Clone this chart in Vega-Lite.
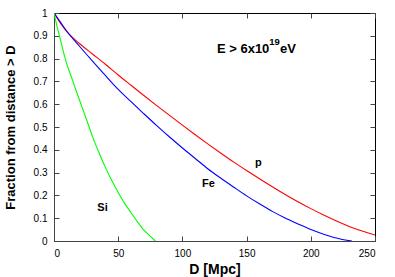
{
  "$schema": "https://vega.github.io/schema/vega-lite/v6.json",
  "width": 321,
  "height": 228,
  "autosize": "none",
  "padding": {"left": 54, "top": 13, "right": 20, "bottom": 36},
  "background": "white",
  "config": {
    "view": {"stroke": "black", "strokeWidth": 1},
    "font": "Liberation Sans",
    "axis": {"grid": false, "labelFont": "Liberation Sans", "titleFont": "Liberation Sans", "labelColor": "black", "titleColor": "black", "domainColor": "#444", "tickColor": "#444", "labelFontSize": 10, "titleFontWeight": "bold"}
  },
  "datasets": {
    "curves": [
      {"D": 0, "F": 1.0, "s": "p"}, {"D": 2, "F": 0.982, "s": "p"}, {"D": 5, "F": 0.955, "s": "p"}, {"D": 10, "F": 0.918, "s": "p"}, {"D": 20, "F": 0.865, "s": "p"}, {"D": 30, "F": 0.82, "s": "p"}, {"D": 40, "F": 0.775, "s": "p"}, {"D": 50, "F": 0.728, "s": "p"}, {"D": 60, "F": 0.683, "s": "p"}, {"D": 70, "F": 0.638, "s": "p"}, {"D": 80, "F": 0.594, "s": "p"}, {"D": 90, "F": 0.551, "s": "p"}, {"D": 100, "F": 0.508, "s": "p"}, {"D": 110, "F": 0.466, "s": "p"}, {"D": 120, "F": 0.425, "s": "p"}, {"D": 130, "F": 0.385, "s": "p"}, {"D": 140, "F": 0.346, "s": "p"}, {"D": 150, "F": 0.309, "s": "p"}, {"D": 160, "F": 0.273, "s": "p"}, {"D": 170, "F": 0.238, "s": "p"}, {"D": 180, "F": 0.204, "s": "p"}, {"D": 190, "F": 0.172, "s": "p"}, {"D": 200, "F": 0.142, "s": "p"}, {"D": 210, "F": 0.114, "s": "p"}, {"D": 220, "F": 0.088, "s": "p"}, {"D": 230, "F": 0.064, "s": "p"}, {"D": 240, "F": 0.044, "s": "p"}, {"D": 250, "F": 0.026, "s": "p"},
      {"D": 0, "F": 1.0, "s": "Fe"}, {"D": 5, "F": 0.96, "s": "Fe"}, {"D": 10, "F": 0.92, "s": "Fe"}, {"D": 20, "F": 0.853, "s": "Fe"}, {"D": 30, "F": 0.789, "s": "Fe"}, {"D": 40, "F": 0.726, "s": "Fe"}, {"D": 50, "F": 0.665, "s": "Fe"}, {"D": 60, "F": 0.611, "s": "Fe"}, {"D": 70, "F": 0.558, "s": "Fe"}, {"D": 80, "F": 0.506, "s": "Fe"}, {"D": 90, "F": 0.456, "s": "Fe"}, {"D": 100, "F": 0.408, "s": "Fe"}, {"D": 110, "F": 0.362, "s": "Fe"}, {"D": 120, "F": 0.316, "s": "Fe"}, {"D": 130, "F": 0.275, "s": "Fe"}, {"D": 140, "F": 0.236, "s": "Fe"}, {"D": 150, "F": 0.198, "s": "Fe"}, {"D": 160, "F": 0.163, "s": "Fe"}, {"D": 170, "F": 0.13, "s": "Fe"}, {"D": 180, "F": 0.101, "s": "Fe"}, {"D": 190, "F": 0.075, "s": "Fe"}, {"D": 200, "F": 0.05, "s": "Fe"}, {"D": 210, "F": 0.03, "s": "Fe"}, {"D": 220, "F": 0.013, "s": "Fe"}, {"D": 228, "F": 0.003, "s": "Fe"}, {"D": 232, "F": 0.0, "s": "Fe"},
      {"D": 0, "F": 1.0, "s": "Si"}, {"D": 2, "F": 0.95, "s": "Si"}, {"D": 4, "F": 0.905, "s": "Si"}, {"D": 6, "F": 0.86, "s": "Si"}, {"D": 8, "F": 0.815, "s": "Si"}, {"D": 10, "F": 0.776, "s": "Si"}, {"D": 14, "F": 0.712, "s": "Si"}, {"D": 18, "F": 0.647, "s": "Si"}, {"D": 22, "F": 0.585, "s": "Si"}, {"D": 26, "F": 0.522, "s": "Si"}, {"D": 30, "F": 0.458, "s": "Si"}, {"D": 35, "F": 0.388, "s": "Si"}, {"D": 40, "F": 0.323, "s": "Si"}, {"D": 45, "F": 0.265, "s": "Si"}, {"D": 50, "F": 0.213, "s": "Si"}, {"D": 55, "F": 0.165, "s": "Si"}, {"D": 60, "F": 0.124, "s": "Si"}, {"D": 65, "F": 0.084, "s": "Si"}, {"D": 70, "F": 0.048, "s": "Si"}, {"D": 74, "F": 0.026, "s": "Si"}, {"D": 77, "F": 0.01, "s": "Si"}, {"D": 79, "F": 0.0, "s": "Si"}
    ],
    "labels": [
      {"D": 159.1, "F": 0.343, "t": "p"},
      {"D": 120.2, "F": 0.249, "t": "Fe"},
      {"D": 37.8, "F": 0.145, "t": "Si"}
    ]
  },
  "layer": [
    {
      "encoding": {
        "x": {"field": "D", "type": "quantitative", "scale": {"domain": [0, 250], "nice": false}, "axis": {"values": [0, 50, 100, 150, 200, 250], "format": "d", "tickSize": -5, "labelPadding": 12, "title": "D [Mpc]", "titleFontSize": 14, "titlePadding": 4}},
        "y": {"field": "F", "type": "quantitative", "scale": {"domain": [0, 1], "nice": false}, "axis": {"values": [0, 0.1, 0.2, 0.3, 0.4, 0.5, 0.6, 0.7, 0.8, 0.9, 1], "format": "~g", "tickSize": -5, "labelPadding": 12, "title": "Fraction from distance > D", "titleFontSize": 13, "titlePadding": 16}}
      },
      "layer": [
        {
          "data": {"name": "curves"},
          "mark": {"type": "line", "strokeWidth": 1.1, "interpolate": "monotone", "clip": true},
          "encoding": {
            "color": {"field": "s", "type": "nominal", "scale": {"domain": ["p", "Fe", "Si"], "range": ["#ff0000", "#0000ff", "#00ff00"]}, "legend": null}
          }
        },
        {
          "data": {"name": "labels"},
          "mark": {"type": "text", "fontWeight": "bold", "fontSize": 11, "font": "Liberation Sans", "align": "center", "baseline": "middle", "color": "black"},
          "encoding": {"text": {"field": "t"}}
        },
        {
          "data": {"values": [{"D": 126.9, "F": 0.842, "t": "E > 6x10"}]},
          "mark": {"type": "text", "fontWeight": "bold", "fontSize": 13, "font": "Liberation Sans", "align": "left", "baseline": "middle", "color": "black"},
          "encoding": {"text": {"field": "t"}}
        },
        {
          "data": {"values": [{"D": 167.6, "F": 0.873, "t": "19"}]},
          "mark": {"type": "text", "fontWeight": "bold", "fontSize": 9.5, "font": "Liberation Sans", "align": "left", "baseline": "middle", "color": "black"},
          "encoding": {"text": {"field": "t"}}
        },
        {
          "data": {"values": [{"D": 176.0, "F": 0.842, "t": "eV"}]},
          "mark": {"type": "text", "fontWeight": "bold", "fontSize": 13, "font": "Liberation Sans", "align": "left", "baseline": "middle", "color": "black"},
          "encoding": {"text": {"field": "t"}}
        }
      ]
    },
    {
      "data": {"name": "labels"},
      "mark": {"type": "point", "opacity": 0},
      "encoding": {
        "x": {"field": "D", "type": "quantitative", "scale": {"domain": [0, 250], "nice": false}, "axis": {"orient": "top", "values": [0, 50, 100, 150, 200, 250], "tickSize": -5, "labels": false, "domain": false, "title": null}},
        "y": {"field": "F", "type": "quantitative", "scale": {"domain": [0, 1], "nice": false}, "axis": {"orient": "right", "values": [0, 0.1, 0.2, 0.3, 0.4, 0.5, 0.6, 0.7, 0.8, 0.9, 1], "tickSize": -5, "labels": false, "domain": false, "title": null}}
      }
    }
  ],
  "resolve": {"scale": {"x": "independent", "y": "independent"}, "axis": {"x": "independent", "y": "independent"}}
}
